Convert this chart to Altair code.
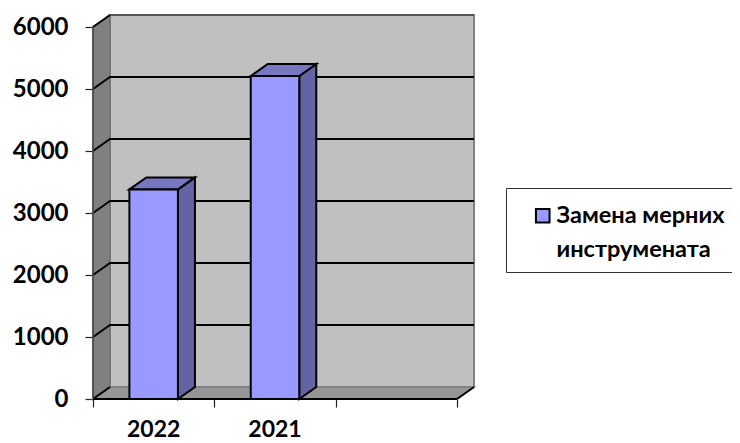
import altair as alt
import pandas as pd

categories = ["2022", "2021"]
values = [3380, 5210]
series_name = "Замена мерних|инструмената"
y_ticks = [0, 1000, 2000, 3000, 4000, 5000, 6000]
x_ticks = [0, 1, 2, 3]

FONT = "Lato"
YMAX = 6000
NCAT = 3
DX = 17 / 121.33   # depth of the 3D box in category units
DY = 12 / 0.062    # depth of the 3D box in value units
BAR_L, BAR_R = 0.3, 0.7

W, H = 381, 384
xs = alt.Scale(domain=[0, NCAT + DX], nice=False, zero=False)
ys = alt.Scale(domain=[0, YMAX + DY], nice=False, zero=False)


def X(axis=None):
    return alt.X("x:Q", scale=xs, axis=axis, title=None)


def Y(axis=None):
    return alt.Y("y:Q", scale=ys, axis=axis, title=None)


Y2 = alt.Y2("y2:Q")
X2 = alt.X2("x2:Q")


def para(rows, fill, stroke, sw, key=None):
    df = pd.DataFrame(rows, columns=["k", "x", "y", "y2"])
    return alt.Chart(df).mark_area(
        fill=fill, stroke=stroke, strokeWidth=sw, opacity=1, interpolate="linear"
    ).encode(x=X(), y=Y(), y2=Y2, detail="k:N")


x_axis = alt.Axis(values=x_ticks, labels=False, domain=False, grid=False, tickColor="#222222",
                  tickSize=8, tickWidth=1.2, orient="bottom", title=None)
y_axis = alt.Axis(values=y_ticks, domain=False, grid=False, tickColor="#222222", tickSize=8,
                  tickWidth=1.2, labelFont=FONT, labelFontWeight="bold", labelFontSize=24,
                  labelColor="#000000", labelPadding=17, orient="left", title=None, format="d")

back = alt.Chart(pd.DataFrame({"x": [DX], "x2": [NCAT + DX], "y": [DY], "y2": [YMAX + DY]})).mark_rect(
    fill="#c0c0c0", stroke="#808080", strokeWidth=2
).encode(x=X(x_axis), x2=X2, y=Y(y_axis), y2=Y2)

floor = para([(0, 0, 0, 0), (0, DX, DY, 0), (0, NCAT, DY, 0), (0, NCAT + DX, DY, DY)], "#969696", "#808080", 1.5)
side = para([(0, 0, YMAX, 0), (0, DX, YMAX + DY, DY)], "#808080", "#707070", 1.5)

# gridlines: slanted on the side wall and level on the back wall
grid_rows = []
for t in y_ticks:
    if t > 0:
        grid_rows += [(t, 0, t), (t, DX, t + DY)]
        if t < YMAX:
            grid_rows += [(t, NCAT + DX, t + DY)]
grid = alt.Chart(pd.DataFrame(grid_rows, columns=["k", "x", "y"])).mark_line(
    color="#000000", strokeWidth=2
).encode(x=X(), y=Y(), detail="k:N")

top_edge = alt.Chart(pd.DataFrame({"x": [DX, NCAT + DX], "y": [YMAX + DY] * 2})).mark_line(
    color="#555555", strokeWidth=2
).encode(x=X(), y=Y())

base_edge = alt.Chart(pd.DataFrame({"x": [0, NCAT], "y": [0, 0]})).mark_line(
    color="#000000", strokeWidth=2
).encode(x=X(), y=Y())
right_slant = alt.Chart(pd.DataFrame({"x": [NCAT, NCAT + DX], "y": [0, DY]})).mark_line(
    color="#000000", strokeWidth=2
).encode(x=X(), y=Y())
left_slant = alt.Chart(pd.DataFrame({"x": [0, DX], "y": [0, DY]})).mark_line(
    color="#000000", strokeWidth=2
).encode(x=X(), y=Y())
left_edge = alt.Chart(pd.DataFrame({"x": [0, 0], "y": [0, YMAX]})).mark_line(
    color="#444444", strokeWidth=1.5
).encode(x=X(), y=Y())

side_rows, top_rows, front_rows = [], [], []
for i, (c, v) in enumerate(zip(categories, values)):
    a, b = i + BAR_L, i + BAR_R
    side_rows += [(c, b, v, 0), (c, b + DX, v + DY, DY)]
    top_rows += [(c, a, v, v), (c, a + DX, v + DY, v), (c, b, v + DY, v), (c, b + DX, v + DY, v + DY)]
    front_rows.append({"x": a, "x2": b, "y": v, "y2": 0, "s": series_name})

bar_sides = para(side_rows, "#6464a4", "#000000", 2)
bar_tops = para(top_rows, "#7777bf", "#000000", 2)

legend = alt.Legend(
    title=None, orient="none", legendX=438, legendY=189, symbolType="square", symbolSize=185,
    symbolStrokeColor="#000000", symbolStrokeWidth=2, symbolFillColor="#9999ff",
    labelFont=FONT, labelFontWeight="bold", labelFontSize=23.5, labelColor="#000000",
    labelLimit=300, labelOffset=2, labelExpr="split(datum.label, '|')",
)
bar_fronts = alt.Chart(pd.DataFrame(front_rows)).mark_rect(stroke="#000000", strokeWidth=2).encode(
    x=X(), x2=X2, y=Y(), y2=Y2,
    color=alt.Color("s:N", scale=alt.Scale(domain=[series_name], range=["#9999ff"]), legend=legend),
)

labels = alt.Chart(pd.DataFrame({"x": [i + 0.5 for i in range(len(categories))], "c": categories})).mark_text(
    font=FONT, fontWeight="bold", fontSize=23, color="#000000", baseline="middle", align="center"
).encode(x=X(), y=alt.value(H + 31), text="c:N")

legend_box = alt.Chart(pd.DataFrame({"a": [0]})).mark_rect(
    fill="#ffffff", stroke="#333333", strokeWidth=1
).encode(x=alt.value(413.5), x2=alt.value(700), y=alt.value(173.5), y2=alt.value(257.5))

chart = alt.layer(
    back, floor, side, grid, top_edge, left_slant, base_edge, right_slant, left_edge,
    bar_sides, bar_tops, bar_fronts, labels, legend_box,
).resolve_axis(x="independent", y="independent").properties(
    width=W, height=H,
    padding={"left": 85, "top": 7, "right": 258, "bottom": 44},
    autosize=alt.AutoSizeParams(type="none"),
    config=alt.Config(view=alt.ViewConfig(stroke="transparent"),
                      style={"guide-label": {"lineHeight": 34}}),
)

chart.save("out.html", embed_options={"renderer": "svg", "actions": False})
